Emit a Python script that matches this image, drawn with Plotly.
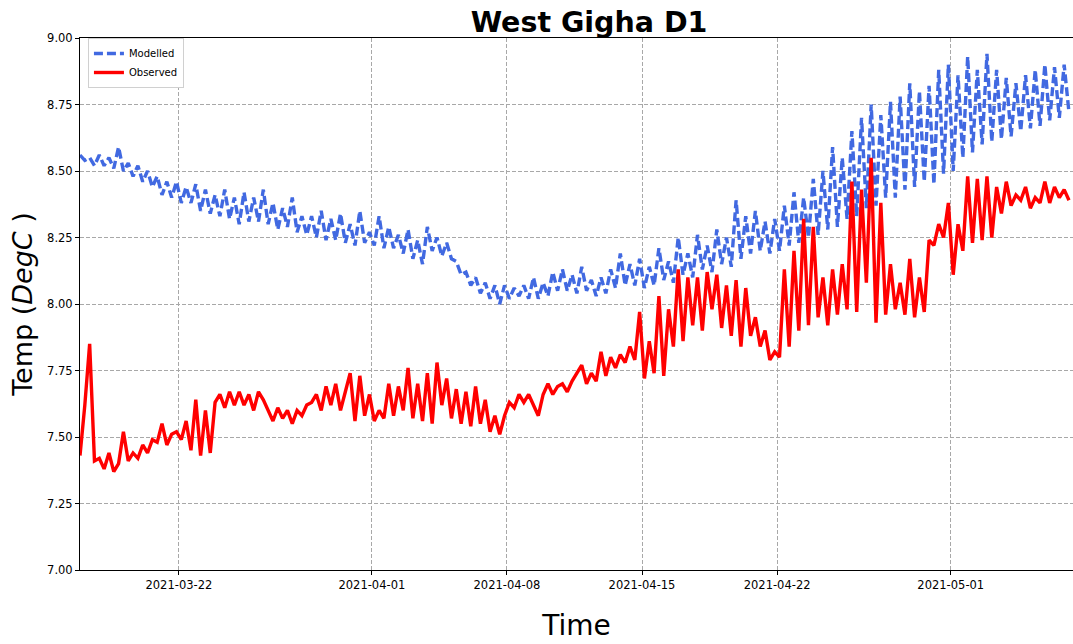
import pandas as pd
import plotly.graph_objects as go

# 6-hourly samples starting 2021-03-16 21:00
start_time = "2021-03-16 21:00"

modelled = [
    8.56, 8.54, 8.55, 8.52,  8.56, 8.52, 8.55, 8.51,  8.59, 8.50, 8.53, 8.48,
    8.52, 8.46, 8.50, 8.44,  8.48, 8.41, 8.46, 8.40,  8.46, 8.38, 8.44, 8.38,
    8.45, 8.35, 8.43, 8.34,  8.41, 8.33, 8.43, 8.32,  8.40, 8.30, 8.42, 8.31,
    8.40, 8.31, 8.43, 8.30,  8.38, 8.28, 8.36, 8.29,  8.40, 8.27, 8.33, 8.26,
    8.33, 8.25, 8.35, 8.24,  8.32, 8.24, 8.34, 8.23,  8.30, 8.22, 8.35, 8.23,
    8.27, 8.22, 8.33, 8.21,  8.29, 8.21, 8.26, 8.19,  8.28, 8.17, 8.24, 8.15,
    8.29, 8.20, 8.25, 8.18,  8.23, 8.17, 8.16, 8.11,  8.12, 8.07, 8.10, 8.04,
    8.08, 8.02, 8.07, 8.00,  8.07, 8.02, 8.06, 8.03,  8.07, 8.02, 8.10, 8.02,
    8.08, 8.03, 8.12, 8.05,  8.13, 8.05, 8.11, 8.04,  8.14, 8.05, 8.09, 8.03,
    8.10, 8.04, 8.13, 8.06,  8.19, 8.07, 8.15, 8.07,  8.17, 8.06, 8.14, 8.07,
    8.21, 8.09, 8.16, 8.08,  8.25, 8.11, 8.19, 8.10,  8.26, 8.13, 8.22, 8.12,
    8.28, 8.15, 8.25, 8.14,  8.39, 8.17, 8.33, 8.19,  8.35, 8.20, 8.31, 8.19,
    8.32, 8.20, 8.37, 8.22,  8.42, 8.23, 8.40, 8.25,  8.47, 8.26, 8.50, 8.28,
    8.59, 8.29, 8.55, 8.32,  8.65, 8.33, 8.70, 8.36,  8.75, 8.37, 8.71, 8.40,
    8.76, 8.40, 8.78, 8.43,  8.83, 8.44, 8.80, 8.46,  8.82, 8.45, 8.88, 8.49,
    8.90, 8.50, 8.86, 8.55,  8.93, 8.57, 8.88, 8.60,  8.94, 8.61, 8.88, 8.62,
    8.85, 8.63, 8.83, 8.65,  8.86, 8.66, 8.88, 8.67,  8.90, 8.69, 8.89, 8.70,
    8.90, 8.72,
]

observed = [
    7.43, 7.62, 7.85, 7.41,  7.42, 7.38, 7.44, 7.37,  7.40, 7.52, 7.41, 7.44,
    7.42, 7.47, 7.44, 7.49,  7.48, 7.55, 7.47, 7.51,  7.52, 7.49, 7.56, 7.45,
    7.64, 7.43, 7.60, 7.44,  7.63, 7.66, 7.61, 7.67,  7.62, 7.67, 7.62, 7.66,
    7.60, 7.67, 7.64, 7.60,  7.56, 7.61, 7.57, 7.60,  7.55, 7.60, 7.58, 7.62,
    7.63, 7.66, 7.60, 7.69,  7.62, 7.70, 7.60, 7.67,  7.74, 7.56, 7.73, 7.58,
    7.66, 7.56, 7.60, 7.57,  7.70, 7.58, 7.69, 7.60,  7.76, 7.57, 7.70, 7.56,
    7.74, 7.55, 7.78, 7.62,  7.72, 7.57, 7.68, 7.55,  7.67, 7.54, 7.69, 7.55,
    7.64, 7.52, 7.58, 7.51,  7.58, 7.63, 7.61, 7.66,  7.63, 7.66, 7.62, 7.58,
    7.66, 7.70, 7.66, 7.69,  7.70, 7.67, 7.71, 7.74,  7.77, 7.70, 7.74, 7.71,
    7.82, 7.73, 7.80, 7.76,  7.81, 7.78, 7.84, 7.79,  7.97, 7.72, 7.86, 7.74,
    8.03, 7.73, 7.98, 7.84,  8.13, 7.86, 8.10, 7.92,  8.10, 7.90, 8.12, 7.98,
    8.11, 7.91, 8.07, 7.88,  8.09, 7.84, 8.06, 7.88,  7.95, 7.84, 7.90, 7.79,
    7.82, 7.80, 8.13, 7.84,  8.20, 7.90, 8.32, 7.92,  8.29, 7.95, 8.10, 7.92,
    8.13, 7.96, 8.15, 7.98,  8.46, 7.97, 8.43, 8.08,  8.55, 7.93, 8.38, 7.96,
    8.15, 7.98, 8.08, 7.96,  8.17, 7.95, 8.10, 7.97,  8.24, 8.22, 8.30, 8.25,
    8.38, 8.11, 8.30, 8.20,  8.48, 8.23, 8.47, 8.24,  8.48, 8.25, 8.44, 8.34,
    8.46, 8.37, 8.41, 8.39,  8.44, 8.36, 8.40, 8.38,  8.46, 8.38, 8.44, 8.40,
    8.43, 8.39,
]

tick_dates = ["2021-03-22", "2021-04-01", "2021-04-08", "2021-04-15", "2021-04-22", "2021-05-01"]
y_ticks = [7.00, 7.25, 7.50, 7.75, 8.00, 8.25, 8.50, 8.75, 9.00]

times_m = pd.date_range(start_time, periods=len(modelled), freq="6h")
times_o = pd.date_range(start_time, periods=len(observed), freq="6h")

font = "DejaVu Sans"
fig = go.Figure()
fig.add_trace(go.Scatter(x=times_m, y=modelled, mode="lines", name="Modelled",
                         line=dict(color="#4169E1", width=3.4, dash="9px,4px")))
fig.add_trace(go.Scatter(x=times_o, y=observed, mode="lines", name="Observed",
                         line=dict(color="#FF0000", width=3.4)))

fig.update_layout(
    width=1073, height=644,
    margin=dict(l=80, r=0, t=38, b=74),
    paper_bgcolor="white", plot_bgcolor="white",
    font=dict(family=font, color="black", size=11.5),
    title=dict(text="<b>West Gigha D1</b>", x=0.549, xanchor="center", y=0.966, yanchor="middle",
               font=dict(size=28.5, family=font, color="black")),
    showlegend=True,
    legend=dict(x=0.008, y=1.0, xanchor="left", yanchor="top", bgcolor="white",
                bordercolor="#d0d0d0", borderwidth=1, font=dict(size=10, family=font),
                itemwidth=30, tracegroupgap=0),
)
fig.update_xaxes(
    range=["2021-03-16 21:00", "2021-05-07 08:00"],
    tickvals=tick_dates, ticktext=tick_dates,
    showgrid=True, gridcolor="#a8a8a8", griddash="4px,2px", gridwidth=1,
    showline=True, linecolor="black", linewidth=1, mirror=True,
    ticks="outside", ticklen=4, tickcolor="black",
    tickfont=dict(size=11.5),
    title=dict(text="Time", font=dict(size=28, family=font), standoff=24),
    zeroline=False,
)
fig.update_yaxes(
    range=[7.0, 9.0], tickvals=y_ticks, ticktext=[f"{v:.2f}" for v in y_ticks],
    showgrid=True, gridcolor="#a8a8a8", griddash="4px,2px", gridwidth=1,
    showline=True, linecolor="black", linewidth=1, mirror=True,
    ticks="outside", ticklen=4, tickcolor="black",
    tickfont=dict(size=11.5),
    title=dict(text="Temp (<i>DegC</i> )", font=dict(size=27, family=font), standoff=6),
    zeroline=False,
)

fig.write_html("out.html")
